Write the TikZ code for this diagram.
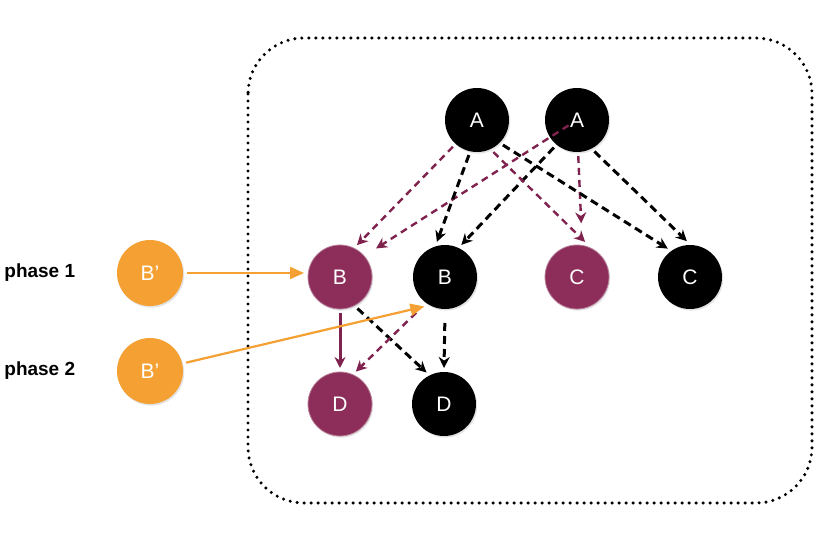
\documentclass[tikz,border=0pt]{standalone}
\usepackage{fontspec}
\setmainfont{Liberation Sans}
\usetikzlibrary{arrows.meta,shadows}
\definecolor{mag}{RGB}{140,45,90}
\definecolor{magline}{RGB}{128,34,78}
\definecolor{org}{RGB}{245,160,50}
\begin{document}
\begin{tikzpicture}[x=0.5pt,y=-0.5pt,
  nd/.style={circle, minimum size=32pt, inner sep=0pt, outer sep=2pt, text=white,
    font=\fontsize{10.5}{12}\selectfont,
    drop shadow={shadow xshift=0.6pt,shadow yshift=-0.8pt,opacity=0.22}},
  blk/.style={nd, fill=black},
  mg/.style={nd, fill=mag, draw=mag!60!white, line width=0.4pt},
  og/.style={nd, fill=org, minimum size=33pt},
  bdash/.style={draw=black, line width=1.5pt, dash pattern=on 4pt off 2.5pt, -{Stealth[length=5.5pt,width=5.5pt]}},
  mdash/.style={draw=magline, line width=1.2pt, dash pattern=on 3.5pt off 2.5pt, -{Stealth[length=5.5pt,width=5.5pt]}},
  msolid/.style={draw=magline, line width=1.5pt, -{Stealth[length=5.5pt,width=5.5pt]}},
  oarrow/.style={draw=org, line width=1.1pt, -{Triangle[length=7pt,width=6pt]}},
  phase/.style={anchor=west, font=\bfseries\fontsize{9.5}{11}\selectfont, inner sep=0pt}
]
\useasboundingbox (0,0) rectangle (831,551);
\fill[white] (0,0) rectangle (831,551);
% dotted frame
\draw[line width=1.7pt, dash pattern=on 0pt off 3.5pt, line cap=round, rounded corners=28pt]
  (248,38) rectangle (812,503);
% nodes
\node[blk] (A1) at (477,120) {A};
\node[blk] (A2) at (577,120) {A};
\node[mg]  (Bm) at (340,277) {B};
\node[blk] (Bb) at (445,277) {B};
\node[mg]  (Cm) at (577,277) {C};
\node[blk] (Cb) at (690,277) {C};
\node[mg]  (Dm) at (340,404) {D};
\node[blk] (Db) at (444,404) {D};
\node[og]  (Bp1) at (150,273) {B’};
\node[og]  (Bp2) at (150,371) {B’};
\node[phase] (ph1) at (4,273) {phase 1};
\node[phase] (ph2) at (4,371) {phase 2};
% edges from A
\draw[mdash] (A1.228) -- (Bm.62);
\draw[mdash, shorten <=5pt, shorten >=5pt] (A2.center) -- (Bm.40);
\draw[bdash] (A1.257) -- (Bb.103);
\draw[bdash] (A2.230) -- (Bb.63);
\draw[mdash] (A1.297) -- (Cm.77);
\draw[mdash, shorten >=9pt] (A2.272) -- (Cm.82);
\draw[bdash] (A1.316) -- (Cb.128);
\draw[bdash] (A2.299) -- (Cb.95);
% edges from B
\draw[msolid] (Bm.270) -- (Dm.90);
\draw[bdash] (Bm.299) -- (Db.119);
\draw[mdash, shorten <=5pt] (Bb.233) -- (Dm.64);
\draw[bdash, shorten <=5pt] (Bb.270) -- (Db.90);
% orange
\draw[oarrow] (Bp1.east) -- (Bp1.east -| Bm.west);
\draw[oarrow] (Bp2.13) -- (Bb.235);
\end{tikzpicture}
\end{document}
